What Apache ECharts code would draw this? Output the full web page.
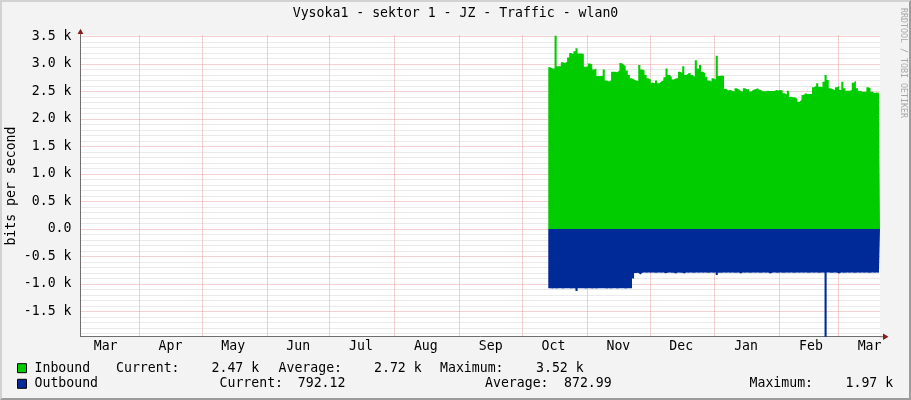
<!DOCTYPE html>
<html>
<head>
<meta charset="utf-8">
<script src="https://cdn.jsdelivr.net/npm/echarts@6/dist/echarts.min.js"></script>
<style>
  html, body { margin: 0; padding: 0; background: #F3F3F3; }
  #wrap { position: relative; width: 911px; height: 400px; }
  #chart { position: absolute; left: 0; top: 0; width: 911px; height: 400px; }
  #frame { position: absolute; left: 0; top: 0; width: 911px; height: 400px; box-sizing: border-box;
           border-top: 2px solid #D2D2D2; border-left: 2px solid #D2D2D2;
           border-right: 2px solid #9C9C9C; border-bottom: 2px solid #9C9C9C; pointer-events: none; }
</style>
</head>
<body>
<div id="wrap"><div id="chart"></div><div id="frame"></div></div>
<script>
// ---------------- data ----------------
const titleText = 'Vysoka1 - sektor 1 - JZ - Traffic - wlan0';
const axisStartDate = '2012-03-04';   // first day on the time axis
const axisDayCount = 383;             // days shown on the time axis
const dataStartDate = '2012-10-14';   // first day with measurements
const monthNames = ['Jan','Feb','Mar','Apr','May','Jun','Jul','Aug','Sep','Oct','Nov','Dec'];
const yTickLabels = [-1500, -1000, -500, 0, 500, 1000, 1500, 2000, 2500, 3000, 3500];
const yMin = -1960, yMax = 3520;

// Inbound, bits per second, one value per day from dataStartDate
const inbound = [
  2940,2920,2920,3520,2960,2960,3030,3020,3040,3120,
  3200,3180,3230,3285,3190,3190,3180,2950,2960,3010,
  2990,2900,2920,2780,2780,2780,2900,2700,2680,2700,
  2860,2860,2850,2880,3020,2990,2960,2880,2800,2740,
  2720,2700,2690,2980,2900,2880,2800,2740,2720,2660,
  2650,2700,2650,2680,2700,2760,2920,2800,2770,2720,
  2740,2740,2860,2840,2960,2800,2830,2840,2800,2770,
  3070,2920,2980,2860,2830,2770,2700,2680,2740,2720,
  3150,2780,2790,2780,2550,2520,2530,2510,2500,2560,
  2540,2510,2500,2560,2540,2540,2500,2530,2540,2560,
  2530,2520,2500,2510,2515,2510,2510,2510,2527,2520,
  2527,2520,2467,2450,2515,2406,2394,2394,2358,2315,
  2345,2436,2467,2455,2455,2455,2576,2600,2648,2588,
  2580,2679,2800,2709,2558,2539,2527,2576,2600,2527,
  2679,2558,2515,2515,2527,2661,2697,2560,2515,2497,
  2497,2497,2576,2558,2497,2467,2480,2479,2470
];
// Outbound, bits per second (drawn below zero), one value per day from dataStartDate
const outbound = [
  1080,1085,1078,1082,1080,1079,1083,1080,1081,1078,
  1084,1080,1082,1130,1080,1079,1081,1083,1080,1078,
  1082,1080,1085,1079,1080,1081,1078,1083,1080,1082,
  1079,1080,1084,1081,1078,1080,1082,1079,1081,1080,
  900,800,798,830,795,792,796,794,799,793,
  795,797,792,796,794,805,795,793,796,798,
  810,794,797,795,812,793,796,794,798,795,
  792,797,794,796,793,795,798,794,796,793,
  840,797,795,792,796,794,798,793,795,797,
  792,810,794,796,793,795,798,794,796,793,
  795,797,792,796,794,812,795,793,796,798,
  794,797,795,793,796,794,798,795,792,797,
  794,796,793,795,798,794,796,793,795,797,
  792,796,1970,794,798,795,793,796,810,794,
  797,795,793,796,794,798,795,792,797,794,
  796,793,795,798,794,796,793,795,792
];
const legendStats = {
  inbound:  { current: '2.47 k', average: '2.72 k', maximum: '3.52 k' },
  outbound: { current: '792.12', average: '872.99', maximum: '1.97 k' }
};

// ---------------- build ----------------
const FONT = 'DejaVu Sans Mono';
const FS = 13.2;
const categories = [];
const t0 = Date.parse(axisStartDate + 'T00:00:00Z');
for (let j = 0; j < axisDayCount; j++) {
  categories.push(new Date(t0 + j * 86400000).toISOString().slice(0, 10));
}
const startIdx = categories.indexOf(dataStartDate);
const inSeries = categories.map((d, j) => (j >= startIdx && j - startIdx < inbound.length) ? inbound[j - startIdx] : null);
const outSeries = categories.map((d, j) => (j >= startIdx && j - startIdx < outbound.length) ? -outbound[j - startIdx] : null);

const minorTicks = [];
for (let v = Math.ceil(yMin / 100) * 100; v <= yMax; v += 100) minorTicks.push(v);
const majorColor = '#E8A0A0', minorColor = '#D4D4D4';
const splitColors = minorTicks.slice(0, 5).map(v => (v % 500 === 0 ? majorColor : minorColor));

function fmtY(v) {
  if (v === 0) return '0.0';
  return (v / 1000).toFixed(1) + ' k';
}
function txt(x, y, s, align) {
  return { type: 'text', x: x, y: y, silent: true,
    style: { text: s, fontFamily: FONT, fontSize: FS, fill: '#000', align: align || 'left', verticalAlign: 'middle' } };
}

const chart = echarts.init(document.getElementById('chart'), null, { renderer: 'canvas' });
chart.setOption({
  backgroundColor: '#F3F3F3',
  animation: false,
  title: {
    text: titleText, left: 'center', top: 7, padding: 0,
    textStyle: { fontFamily: FONT, fontSize: FS, fontWeight: 'normal', color: '#000' }
  },
  legend: {
    orient: 'vertical', left: 17, top: 360.4, padding: 0, itemGap: 0,
    itemWidth: 9, itemHeight: 9, icon: 'rect', selectedMode: false,
    itemStyle: { borderColor: '#000', borderWidth: 1 },
    textStyle: { fontFamily: FONT, fontSize: FS, color: '#000', lineHeight: 15.6, padding: [0, 0, 0, 3] },
    data: ['Inbound', 'Outbound']
  },
  grid: {
    left: 80.5, right: 31, top: 35.4, bottom: 63.3, containLabel: false,
    outerBoundsMode: 'none',
    show: true, backgroundColor: '#FFFFFF', borderWidth: 0
  },
  xAxis: {
    type: 'category', data: categories, boundaryGap: false,
    axisLine: { show: true, onZero: false, lineStyle: { color: '#6E6E6E', width: 1 } },
    axisTick: { show: false },
    axisLabel: {
      interval: (i, v) => v.slice(8) === '16',
      formatter: v => monthNames[parseInt(v.slice(5, 7), 10) - 1],
      margin: 3, fontFamily: FONT, fontSize: FS, color: '#000'
    },
    splitLine: {
      show: true, interval: (i, v) => v.slice(8) === '01',
      lineStyle: { color: majorColor, width: 1, type: [1, 1] }
    }
  },
  yAxis: {
    type: 'value', min: yMin, max: yMax,
    name: 'bits per second', nameLocation: 'middle', nameGap: 62, nameRotate: 90,
    nameMoveOverlap: false,
    nameTextStyle: { fontFamily: FONT, fontSize: FS, color: '#000' },
    axisLine: { show: true, lineStyle: { color: '#6E6E6E', width: 1 } },
    axisTick: { show: false, customValues: minorTicks },
    axisLabel: { customValues: yTickLabels, formatter: fmtY, margin: 9, fontFamily: FONT, fontSize: FS, color: '#000' },
    splitLine: { show: true, lineStyle: { color: splitColors, width: 1, type: [1, 1] } }
  },
  series: [
    {
      name: 'Inbound', type: 'line', data: inSeries, step: 'middle',
      symbol: 'none', showSymbol: false, connectNulls: false,
      itemStyle: { color: '#00CC00' },
      lineStyle: { width: 0, color: '#00CC00' },
      areaStyle: { color: '#00CC00', opacity: 1 }, z: 2
    },
    {
      name: 'Outbound', type: 'line', data: outSeries, step: 'middle',
      symbol: 'none', showSymbol: false, connectNulls: false,
      itemStyle: { color: '#002A97' },
      lineStyle: { width: 0, color: '#002A97' },
      areaStyle: { color: '#002A97', opacity: 1 }, z: 3
    }
  ],
  graphic: [
    // axis arrows
    { type: 'line', silent: true, shape: { x1: 880, y1: 336.7, x2: 884, y2: 336.7 }, style: { stroke: '#6E6E6E', lineWidth: 1 } },
    { type: 'polygon', silent: true, shape: { points: [[883, 333.4], [883, 340], [888.5, 336.7]] }, style: { fill: '#8B1A1A' } },
    { type: 'line', silent: true, shape: { x1: 80.5, y1: 35.4, x2: 80.5, y2: 33 }, style: { stroke: '#6E6E6E', lineWidth: 1 } },
    { type: 'polygon', silent: true, shape: { points: [[77.6, 34], [83.4, 34], [80.5, 28.8]] }, style: { fill: '#8B1A1A' } },
    // watermark
    { type: 'text', x: 903.5, y: 8, rotation: -Math.PI / 2, silent: true,
      style: { text: 'RRDTOOL / TOBI OETIKER', fontFamily: FONT, fontSize: 8.3, fill: '#A8A8A8', align: 'left', verticalAlign: 'middle' } },
    // legend statistics
    txt(116, 368.2, 'Current:'),
    txt(211.5, 368.2, legendStats.inbound.current),
    txt(278.5, 368.2, 'Average:'),
    txt(374, 368.2, legendStats.inbound.average),
    txt(440, 368.2, 'Maximum:'),
    txt(536, 368.2, legendStats.inbound.maximum),
    txt(219.5, 383.8, 'Current:'),
    txt(297.8, 383.8, legendStats.outbound.current),
    txt(485, 383.8, 'Average:'),
    txt(564, 383.8, legendStats.outbound.average),
    txt(749.5, 383.8, 'Maximum:'),
    txt(845.5, 383.8, legendStats.outbound.maximum)
  ]
});
</script>
</body>
</html>
